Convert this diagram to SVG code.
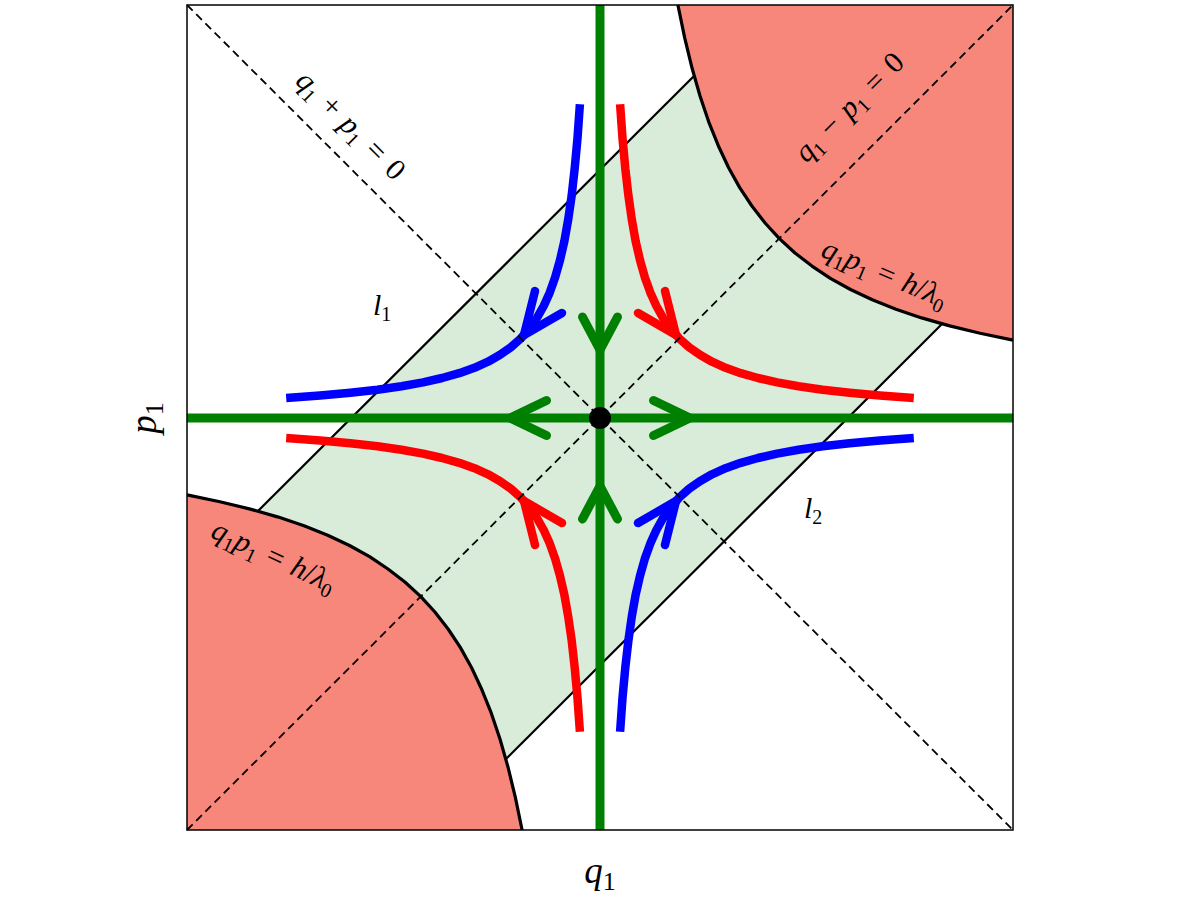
<svg xmlns="http://www.w3.org/2000/svg" width="1200" height="900" viewBox="0 0 1200 900">
<style>
.band{fill:#d9ebd9}
.redreg{fill:#f7877a}
.bound{fill:none;stroke:#000;stroke-width:2.2}
.hyp{fill:none;stroke:#000;stroke-width:3.2;stroke-linejoin:round}
.dash{fill:none;stroke:#000;stroke-width:1.8;stroke-dasharray:8 5}
.frame{fill:none;stroke:#000;stroke-width:1.5}
.flow{fill:none;stroke-width:8.5;stroke-linejoin:round;stroke-linecap:butt}
.head{fill:none;stroke-width:8.5;stroke-linecap:round;stroke-linejoin:round}
.axis{stroke:#008000;stroke-width:9}
.ghead{fill:none;stroke:#008000;stroke-width:9;stroke-linecap:round;stroke-linejoin:round}
.lab{font-family:"Liberation Serif",serif;font-size:30px;fill:#000}
.ax{font-family:"Liberation Serif",serif;font-size:37px;fill:#000}
.i{font-style:italic}
.s{font-size:20px}
.sa{font-size:26px}
</style>
<rect x="0" y="0" width="1200" height="900" fill="#fff"/>
<g id="regions">
<polygon id="band" class="band" points="694,76 942,324 506,759 258,511"/>
<path id="red-top-right" class="redreg" d="M677.9,5 L684.7,37.9 L692.1,68.3 L700.1,96.3 L708.8,122.1 L718.3,145.7 L728.5,167.5 L739.7,187.6 L751.9,206 L765.1,223 L779.4,238.6 L795,253 L812,266.1 L830.4,278.3 L850.5,289.5 L872.3,299.8 L896,309.2 L921.7,317.9 L949.7,325.9 L980.1,333.3 L1013,340.1 L1013,5 Z"/>
<path id="red-bottom-left" class="redreg" d="M187,494.9 L219.9,501.7 L250.3,509.1 L278.3,517.1 L304,525.8 L327.7,535.2 L349.5,545.5 L369.6,556.7 L388,569 L404.9,582 L420.6,596.4 L434.9,612 L448.1,629 L460.3,647.4 L471.5,667.5 L481.7,689.3 L491.2,712.9 L499.9,738.7 L507.9,766.7 L515.3,797.1 L522.1,830 L187,830 Z"/>
</g>
<g id="boundaries">
<line id="l1-line" class="bound" x1="258" y1="511" x2="694" y2="76"/>
<line id="l2-line" class="bound" x1="506" y1="759" x2="942" y2="324"/>
<path id="hyp-top" class="hyp" d="M677.9,5 L684.7,37.9 L692.1,68.3 L700.1,96.3 L708.8,122.1 L718.3,145.7 L728.5,167.5 L739.7,187.6 L751.9,206 L765.1,223 L779.4,238.6 L795,253 L812,266.1 L830.4,278.3 L850.5,289.5 L872.3,299.8 L896,309.2 L921.7,317.9 L949.7,325.9 L980.1,333.3 L1013,340.1"/>
<path id="hyp-bottom" class="hyp" d="M187,494.9 L219.9,501.7 L250.3,509.1 L278.3,517.1 L304,525.8 L327.7,535.2 L349.5,545.5 L369.6,556.7 L388,569 L404.9,582 L420.6,596.4 L434.9,612 L448.1,629 L460.3,647.4 L471.5,667.5 L481.7,689.3 L491.2,712.9 L499.9,738.7 L507.9,766.7 L515.3,797.1 L522.1,830"/>
</g>
<g id="connectors">
<path id="flow-blue-tl" class="flow" stroke="#0000ff" d="M579.9,104.2 L577.5,138.1 L574.7,168.4 L571.7,195.4 L568.2,219.5 L564.4,241 L560,260.1 L555.2,277.2 L549.8,292.4 L543.7,306 L536.8,318.1 L529.2,328.9 L520.6,338.6 L510.9,347.2 L500.1,354.8 L488,361.7 L474.4,367.8 L459.2,373.2 L442.1,378 L423,382.4 L401.5,386.2 L377.4,389.7 L350.4,392.7 L320.1,395.5 L286.2,397.9"/>
<path id="flow-red-tr" class="flow" stroke="#ff0000" d="M620.1,104.2 L622.5,138.1 L625.3,168.4 L628.4,195.4 L631.8,219.5 L635.6,241 L640,260.1 L644.8,277.2 L650.3,292.4 L656.4,306 L663.2,318.1 L670.9,328.9 L679.4,338.6 L689.1,347.2 L699.9,354.8 L712,361.7 L725.6,367.8 L740.8,373.2 L757.9,378 L777.1,382.4 L798.5,386.2 L822.6,389.7 L849.6,392.7 L879.9,395.5 L913.8,397.9"/>
<path id="flow-red-bl" class="flow" stroke="#ff0000" d="M579.9,731.8 L577.5,697.9 L574.7,667.6 L571.7,640.6 L568.2,616.5 L564.4,595 L560,575.9 L555.2,558.8 L549.8,543.6 L543.7,530 L536.8,517.9 L529.2,507.1 L520.6,497.4 L510.9,488.8 L500.1,481.2 L488,474.3 L474.4,468.2 L459.2,462.8 L442.1,458 L423,453.6 L401.5,449.8 L377.4,446.3 L350.4,443.3 L320.1,440.5 L286.2,438.1"/>
<path id="flow-blue-br" class="flow" stroke="#0000ff" d="M620.1,731.8 L622.5,697.9 L625.3,667.6 L628.4,640.6 L631.8,616.5 L635.6,595 L640,575.9 L644.8,558.8 L650.3,543.6 L656.4,530 L663.2,517.9 L670.9,507.1 L679.4,497.4 L689.1,488.8 L699.9,481.2 L712,474.3 L725.6,468.2 L740.8,462.8 L757.9,458 L777.1,453.6 L798.5,449.8 L822.6,446.3 L849.6,443.3 L879.9,440.5 L913.8,438.1"/>
<polyline class="head" stroke="#0000ff" points="535,291 524,335 562,313"/>
<polyline class="head" stroke="#ff0000" points="665,291 676,335 638,313"/>
<polyline class="head" stroke="#ff0000" points="535,545 524,501 562,523"/>
<polyline class="head" stroke="#0000ff" points="665,545 676,501 638,523"/>
<line id="diag-plus" class="dash" x1="187" y1="5" x2="1013" y2="830"/>
<line id="diag-minus" class="dash" x1="187" y1="830" x2="1013" y2="5"/>
<line id="axis-q" class="axis" x1="187" y1="418" x2="1013" y2="418"/>
<line id="axis-p" class="axis" x1="600" y1="5" x2="600" y2="830"/>
<polyline class="ghead" points="582.5,317 600,350 617.5,317"/>
<polyline class="ghead" points="582.5,519 600,486 617.5,519"/>
<polyline class="ghead" points="546.5,400.5 510,418 546.5,435.5"/>
<polyline class="ghead" points="653.5,400.5 690,418 653.5,435.5"/>
</g>
<g id="saddle">
<circle cx="600" cy="418" r="11" fill="#000"/>
</g>
<rect id="frame" class="frame" x="187" y="5" width="826" height="825"/>
<g id="labels">
<text id="lab-plus" class="lab" transform="translate(344,132) rotate(45)" text-anchor="middle"><tspan class="i">q</tspan><tspan class="s" dy="6">1</tspan><tspan dx="10" dy="-6">+</tspan><tspan class="i" dx="10">p</tspan><tspan class="s" dy="6">1</tspan><tspan dx="11" dy="-6">=</tspan><tspan dx="11">0</tspan></text>
<text id="lab-minus" class="lab" transform="translate(856,114) rotate(-45)" text-anchor="middle"><tspan class="i">q</tspan><tspan class="s" dy="6">1</tspan><tspan dx="10" dy="-6">−</tspan><tspan class="i" dx="10">p</tspan><tspan class="s" dy="6">1</tspan><tspan dx="11" dy="-6">=</tspan><tspan dx="11">0</tspan></text>
<text id="lab-hyp-tr" class="lab" transform="translate(881,282) rotate(23)" text-anchor="middle"><tspan class="i">q</tspan><tspan class="s" dy="6">1</tspan><tspan class="i" dy="-6">p</tspan><tspan class="s" dy="6">1</tspan><tspan dx="10" dy="-6">=</tspan><tspan class="i" dx="10">h</tspan><tspan>/</tspan><tspan class="i">λ</tspan><tspan class="s" dy="6">0</tspan></text>
<text id="lab-hyp-bl" class="lab" transform="translate(270,565) rotate(25)" text-anchor="middle"><tspan class="i">q</tspan><tspan class="s" dy="6">1</tspan><tspan class="i" dy="-6">p</tspan><tspan class="s" dy="6">1</tspan><tspan dx="10" dy="-6">=</tspan><tspan class="i" dx="10">h</tspan><tspan>/</tspan><tspan class="i">λ</tspan><tspan class="s" dy="6">0</tspan></text>
<text id="lab-l1" class="lab" x="373" y="315"><tspan class="i">l</tspan><tspan class="s" dy="6">1</tspan></text>
<text id="lab-l2" class="lab" x="804" y="518"><tspan class="i">l</tspan><tspan class="s" dy="6">2</tspan></text>
<text id="lab-q1" class="ax" x="600" y="883" text-anchor="middle"><tspan class="i">q</tspan><tspan class="sa" dy="7">1</tspan></text>
<text id="lab-p1" class="ax" transform="translate(156,418) rotate(-90)" text-anchor="middle"><tspan class="i">p</tspan><tspan class="sa" dy="7">1</tspan></text>
</g>
</svg>
